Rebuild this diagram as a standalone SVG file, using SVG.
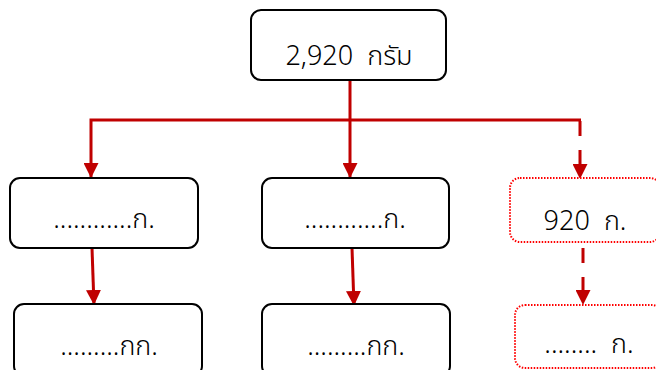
<svg xmlns="http://www.w3.org/2000/svg" width="656" height="370" viewBox="0 0 656 370">
<style>
.box{fill:#fff;stroke:#000;stroke-width:2}
.dot{fill:#fff;stroke:#f00;stroke-width:2;stroke-dasharray:1.5 1.5}
.t{font-family:"Noto Sans","Noto Sans Thai","DejaVu Sans",sans-serif;font-size:27px;font-weight:300;fill:#000;text-anchor:middle}
.c{fill:none;stroke:#c00000;stroke-width:3}
.d{stroke-dasharray:15 14}
</style>
<defs>
<marker id="ah" markerUnits="userSpaceOnUse" markerWidth="15" markerHeight="15" viewBox="0 0 15 15" refX="15" refY="7.5" orient="auto">
<path d="M0,0 L15,7.5 L0,15 z" fill="#c00000"/>
</marker>
</defs>
<g id="connectors">
<path class="c" d="M350,80 L350,178" marker-end="url(#ah)"/>
<path class="c" d="M581,120 L91,120 L91,178" marker-end="url(#ah)"/>
<path class="c d" d="M580,121 L580,179" marker-end="url(#ah)"/>
<path class="c" d="M92,248 L94,305" marker-end="url(#ah)"/>
<path class="c" d="M352,248 L354,306" marker-end="url(#ah)"/>
<path class="c d" d="M583,248 L583,305" marker-end="url(#ah)"/>
</g>
<g id="n-top"><rect class="box" x="251" y="10" width="195" height="70" rx="10"/><text class="t" x="349" y="65" xml:space="preserve">2,920  กรัม</text></g>
<g id="n-l1"><rect class="box" x="10" y="178" width="188" height="70" rx="10"/><text class="t" x="104" y="228">............ก.</text></g>
<g id="n-m1"><rect class="box" x="262" y="178" width="187" height="70" rx="10"/><text class="t" x="355" y="228">............ก.</text></g>
<g id="n-r1"><rect class="dot" x="510" y="178" width="150" height="64" rx="10"/><text class="t" x="585" y="230" xml:space="preserve">920  ก.</text></g>
<g id="n-l2"><rect class="box" x="14" y="304" width="188" height="72" rx="10"/><text class="t" x="109" y="355">.........กก.</text></g>
<g id="n-m2"><rect class="box" x="262" y="304" width="188" height="72" rx="10"/><text class="t" x="356" y="355">.........กก.</text></g>
<g id="n-r2"><rect class="dot" x="515" y="305" width="147" height="63" rx="10"/><text class="t" x="589" y="353" xml:space="preserve">........  ก.</text></g>
</svg>
